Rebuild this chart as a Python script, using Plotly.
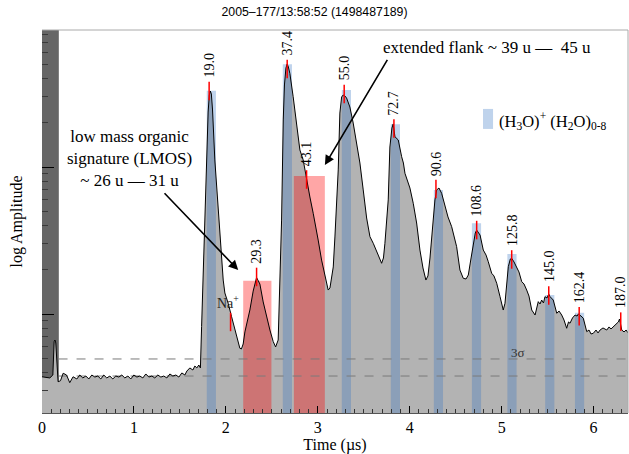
import plotly.graph_objects as go
import math

# ---------------- data (time in µs, log amplitude) ----------------
time_us = [0.000, 0.041, 0.085, 0.118, 0.132, 0.141, 0.150, 0.175, 0.201, 0.230, 0.267, 0.302, 0.338,
           0.379, 0.411, 0.444, 0.477, 0.509, 0.542, 0.575, 0.607, 0.640, 0.672, 0.705, 0.738, 0.770,
           0.803, 0.836, 0.868, 0.901, 0.934, 0.966, 0.999, 1.032, 1.064, 1.097, 1.129, 1.162, 1.195,
           1.227, 1.260, 1.293, 1.325, 1.358, 1.391, 1.423, 1.456, 1.489, 1.521, 1.554, 1.576, 1.608,
           1.641, 1.663, 1.684, 1.706, 1.723,
           1.736, 1.753, 1.771, 1.790, 1.807, 1.820, 1.831, 1.842, 1.855, 1.880, 1.916, 1.953, 1.971,
           1.989, 2.025, 2.062, 2.079, 2.116, 2.152, 2.169, 2.188, 2.207, 2.243, 2.261, 2.297, 2.321,
           2.334, 2.348, 2.370, 2.406, 2.443, 2.479, 2.515, 2.541, 2.569, 2.580, 2.588, 2.606, 2.624,
           2.637, 2.653, 2.667, 2.680, 2.696, 2.732, 2.769, 2.805, 2.841, 2.878, 2.914, 2.950, 2.987,
           3.004, 3.041, 3.077, 3.113, 3.132, 3.168, 3.186, 3.205, 3.222, 3.240, 3.259, 3.276, 3.295,
           3.313, 3.349, 3.385, 3.422, 3.458, 3.494, 3.531, 3.567, 3.603, 3.657, 3.694, 3.714, 3.730,
           3.766, 3.784, 3.806, 3.820, 3.839, 3.875, 3.912, 3.931, 3.948, 4.002, 4.038, 4.075, 4.111,
           4.144, 4.176, 4.198, 4.220, 4.256, 4.274, 4.293, 4.318, 4.347, 4.383, 4.416, 4.456, 4.510,
           4.546, 4.582, 4.612, 4.637, 4.667, 4.691, 4.713, 4.728, 4.742, 4.765, 4.800, 4.830, 4.854,
           4.891, 4.916, 4.946, 4.982, 5.017, 5.036, 5.072, 5.094, 5.109, 5.134, 5.163, 5.188, 5.218,
           5.243, 5.272, 5.297, 5.327, 5.363, 5.398, 5.417, 5.435, 5.455, 5.471, 5.493, 5.512, 5.526,
           5.561, 5.599, 5.624, 5.653, 5.678, 5.707, 5.727, 5.743, 5.770, 5.798, 5.820, 5.834, 5.863,
           5.888, 5.925, 5.950, 5.972, 5.997, 6.026, 6.048, 6.070, 6.102, 6.143, 6.168, 6.189, 6.214,
           6.244, 6.269, 6.282, 6.306, 6.331, 6.353, 6.378]
log_amp = [0.573, 0.571, 0.565, 0.585, 0.812, 0.823, 0.803, 0.539, 0.546, 0.597, 0.585, 0.533, 0.573,
           0.558, 0.585, 0.565, 0.578, 0.558, 0.585, 0.571, 0.578, 0.558, 0.585, 0.565, 0.578, 0.558,
           0.578, 0.571, 0.585, 0.565, 0.578, 0.558, 0.585, 0.571, 0.578, 0.565, 0.592, 0.571, 0.578,
           0.565, 0.585, 0.571, 0.578, 0.565, 0.592, 0.578, 0.585, 0.571, 0.599, 0.585, 0.612, 0.633,
           0.619, 0.646, 0.633, 0.653, 0.633,
           0.914, 1.299, 1.707, 2.048, 2.374, 2.490, 2.517, 2.497, 2.388, 2.048, 1.707, 1.381, 1.231,
           1.143, 1.073, 0.982, 0.939, 0.837, 0.767, 0.762, 0.796, 0.878, 0.982, 1.027, 1.156, 1.224,
           1.248, 1.231, 1.204, 1.082, 0.973, 0.891, 0.812, 0.776, 0.823, 1.027, 1.211, 1.639, 2.320,
           2.558, 2.673, 2.701, 2.680, 2.637, 2.478, 2.293, 2.116, 2.048, 1.912, 1.796, 1.685, 1.571,
           1.503, 1.367, 1.254, 1.163, 1.177, 1.320, 1.524, 1.755, 1.980, 2.367, 2.476, 2.490, 2.483,
           2.469, 2.408, 2.299, 2.163, 2.027, 1.844, 1.653, 1.526, 1.481, 1.401, 1.345, 1.381, 1.481,
           1.776, 2.136, 2.265, 2.293, 2.206, 2.184, 2.070, 2.027, 1.957, 1.857, 1.753, 1.619, 1.435,
           1.313, 1.231, 1.259, 1.381, 1.660, 1.776, 1.844, 1.857, 1.821, 1.730, 1.660, 1.594, 1.458,
           1.299, 1.243, 1.238, 1.265, 1.381, 1.458, 1.551, 1.571, 1.558, 1.537, 1.435, 1.401, 1.356,
           1.277, 1.259, 1.209, 1.118, 1.027, 1.073, 1.322, 1.374, 1.379, 1.354, 1.322, 1.286, 1.220,
           1.204, 1.163, 1.122, 1.027, 0.993, 1.084, 1.068, 1.095, 1.075, 1.118, 1.109, 1.136, 1.118,
           1.095, 1.005, 1.020, 0.993, 0.959, 0.903, 0.946, 0.937, 0.973, 0.993, 0.986, 1.000, 0.986,
           0.971, 0.880, 0.891, 0.864, 0.869, 0.891, 0.871, 0.891, 0.905, 0.891, 0.912, 0.898, 0.914,
           0.932, 0.946, 0.966, 0.891, 0.878, 0.891, 0.869]

# water cluster bands (H3O)+(H2O)n
cluster_t = [1.842, 2.669, 3.311, 3.844, 4.312, 4.726, 5.112, 5.523, 5.847]
cluster_top = [2.519, 2.699, 2.524, 2.290, 1.844, 1.617, 1.408, 1.129, 1.009]
cluster_width = 0.1

# highlighted organic regions
region_t = [2.342, 2.908]
region_width = [0.307, 0.337]
region_top = [1.227, 1.939]

# peak markers
peak_labels = ["19.0", "37.4", "55.0", "72.7", "90.6", "108.6", "125.8", "145.0", "162.4", "187.0",
               "43.1", "29.3"]
peak_t = [1.818, 2.667, 3.287, 3.828, 4.285, 4.728, 5.109, 5.512, 5.843, 6.295, 2.878, 2.334]
peak_log = [2.517, 2.667, 2.497, 2.262, 1.850, 1.571, 1.371, 1.126, 0.984, 0.948, 1.915, 1.252]
na_t, na_log = 2.051, 0.946

# noise levels
sigma_levels = [0.694, 0.578]

x_range = [0, 6.374]
y_range = [0.3265, 2.932]
x_ticks = [0, 1, 2, 3, 4, 5, 6]

SERIF = "Liberation Serif"
mark_half = 0.063
BLUE = "rgba(56,119,195,0.32)"
RED = "rgba(255,0,0,0.35)"


def band_polygons(centers, widths, tops):
    xs, ys = [], []
    for c, w, h in zip(centers, widths, tops):
        xs += [c - w / 2, c + w / 2, c + w / 2, c - w / 2, c - w / 2, None]
        ys += [0, 0, h, h, 0, None]
    return xs, ys


fig = go.Figure()

# grey filled spectrum
fig.add_trace(go.Scatter(x=time_us, y=log_amp, mode="lines", fill="tozeroy",
                         fillcolor="#b3b3b3", line=dict(width=0), hoverinfo="skip",
                         showlegend=False))

# blue cluster bands
bx, by = band_polygons(cluster_t, [cluster_width] * len(cluster_t), cluster_top)
fig.add_trace(go.Scatter(x=bx, y=by, mode="lines", fill="toself", fillcolor=BLUE,
                         line=dict(width=0), hoverinfo="skip", showlegend=False))
# red regions
rx, ry = band_polygons(region_t, region_width, region_top)
fig.add_trace(go.Scatter(x=rx, y=ry, mode="lines", fill="toself", fillcolor=RED,
                         line=dict(width=0), hoverinfo="skip", showlegend=False))

# sigma dashed lines
for lv in sigma_levels:
    fig.add_trace(go.Scatter(x=[0.18, x_range[1]], y=[lv, lv], mode="lines",
                             line=dict(color="#7a7a7a", width=1, dash="dash"),
                             showlegend=False, hoverinfo="skip"))

# black spectrum line
fig.add_trace(go.Scatter(x=time_us, y=log_amp, mode="lines",
                         line=dict(color="black", width=1), showlegend=False))

# red peak markers
mx, my = [], []
for t, lv in zip(peak_t + [na_t], peak_log + [na_log]):
    mx += [t, t, None]
    my += [lv - mark_half, lv + mark_half, None]
fig.add_trace(go.Scatter(x=mx, y=my, mode="lines", line=dict(color="#ff0000", width=1.5),
                         showlegend=False, hoverinfo="skip"))

annotations = []
for lab, t, lv in zip(peak_labels, peak_t, peak_log):
    annotations.append(dict(x=t, y=lv + mark_half, text=lab, textangle=-90, showarrow=False,
                            xanchor="center", yanchor="bottom", yshift=2,
                            font=dict(family=SERIF, size=14, color="black")))
annotations.append(dict(x=na_t, y=na_log + mark_half, text="Na<sup>+</sup>", showarrow=False,
                        xanchor="center", yanchor="bottom", xshift=-3, yshift=0,
                        font=dict(family=SERIF, size=14, color="#222")))
annotations.append(dict(x=0.955, y=2.061, text="low mass organic<br>signature (LMOS)<br>~ 26 u — 31 u",
                        showarrow=False, xanchor="center", yanchor="middle",
                        font=dict(family=SERIF, size=17, color="black")))
annotations.append(dict(x=2.134, y=1.299, ax=1.317, ay=1.832, xref="x", yref="y", axref="x", ayref="y",
                        text="", showarrow=True, arrowhead=2, arrowsize=1.2, arrowwidth=1.6,
                        arrowcolor="black"))
annotations.append(dict(x=4.840, y=2.810, text="extended flank ~ 39 u —  45 u", showarrow=False,
                        xanchor="center", yanchor="middle",
                        font=dict(family=SERIF, size=17, color="black")))
annotations.append(dict(x=3.077, y=2.014, ax=3.766, ay=2.739, xref="x", yref="y", axref="x", ayref="y",
                        text="", showarrow=True, arrowhead=2, arrowsize=1.2, arrowwidth=1.6,
                        arrowcolor="black"))
annotations.append(dict(x=4.949, y=2.313, text="(H<sub>3</sub>O)<sup>+</sup> (H<sub>2</sub>O)<sub>0-8</sub>",
                        showarrow=False, xanchor="left", yanchor="middle",
                        font=dict(family=SERIF, size=16.5, color="black")))
annotations.append(dict(x=5.178, y=sigma_levels[0], text="3σ", showarrow=False,
                        xanchor="center", yanchor="bottom", yshift=-3,
                        font=dict(family=SERIF, size=13, color="#333")))

shapes = [
    dict(type="rect", xref="x", yref="paper", x0=0, x1=0.183, y0=0, y1=1,
         fillcolor="#666666", line=dict(width=0), layer="below"),
    dict(type="rect", xref="x", yref="y", x0=4.797, x1=4.906, y0=2.259, y1=2.395,
         fillcolor=BLUE, line=dict(width=0)),
    dict(type="line", xref="paper", yref="paper", x0=0, x1=1, y0=1, y1=1,
         line=dict(color="#aaaaaa", width=1)),
    dict(type="line", xref="paper", yref="paper", x0=1, x1=1, y0=0, y1=1,
         line=dict(color="#aaaaaa", width=1)),
]

# y ticks on log-amplitude scale
y_major = [1, 2]
y_minor = [n + math.log10(k) for n in range(0, 3) for k in range(2, 10)
           if y_range[0] < n + math.log10(k) < y_range[1]]

fig.update_layout(
    width=629, height=454,
    margin=dict(l=42, r=1, t=30, b=41),
    paper_bgcolor="white", plot_bgcolor="white",
    title=dict(text="2005–177/13:58:52 (1498487189)", x=0.5, xref="container", xanchor="center",
               y=1 - 12 / 454, yref="container", yanchor="middle",
               font=dict(family="Liberation Sans", size=12.3, color="black")),
    annotations=annotations, shapes=shapes,
    xaxis=dict(range=x_range, tickvals=x_ticks, ticks="inside", ticklen=7, tickcolor="black",
               showline=True, linecolor="#555", linewidth=1, showgrid=False, zeroline=False,
               tickfont=dict(family=SERIF, size=16, color="black"),
               minor=dict(dtick=0.1, tick0=0, ticks="inside", ticklen=4, tickcolor="#333"),
               title=dict(text="Time (µs)", standoff=0, font=dict(family=SERIF, size=16, color="black")),
               automargin=False),
    yaxis=dict(range=y_range, tickvals=y_major, ticks="inside", ticklen=12, tickcolor="black",
               showticklabels=False, showline=False, showgrid=False, zeroline=False,
               minor=dict(tickvals=y_minor, ticks="inside", ticklen=6, tickcolor="#3a3a3a"),
               title=dict(text="log Amplitude", standoff=14, font=dict(family=SERIF, size=16, color="black")),
               automargin=False),
)

fig.write_html("out.html", config={"displayModeBar": False},
               post_script="document.body.style.margin='0';document.body.style.overflow='hidden';")
